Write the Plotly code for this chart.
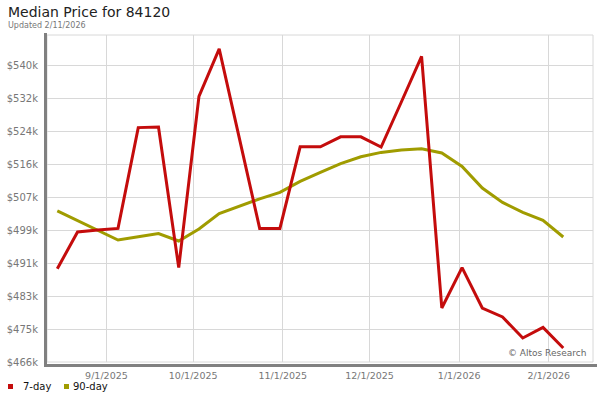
import plotly.graph_objects as go
import pandas as pd

# ---- data ----
dates = pd.date_range("2025-08-15", periods=26, freq="7D")
day7 = [489.6, 498.8, 499.3, 499.7, 524.9, 525.05, 489.9, 532.7, 544.6, 522.2,
        499.7, 499.7, 520.1, 520.1, 522.6, 522.6, 520.05, 531.3, 542.7, 479.8,
        489.9, 479.8, 477.55, 472.3, 474.95, 469.8]
day90 = [504.1, 501.7, 499.2, 496.8, 497.6, 498.4, 496.55, 499.55, 503.4, 505.2,
         507.1, 508.7, 511.45, 513.7, 515.9, 517.6, 518.7, 519.3, 519.6, 518.55,
         515.2, 509.8, 506.2, 503.7, 501.7, 497.55]
y_ticks = [466.3 + 8.23 * k for k in range(10)]
y_labels = ["$466k", "$475k", "$483k", "$491k", "$499k", "$507k", "$516k", "$524k", "$532k", "$540k"]
x_ticks = ["2025-09-01", "2025-10-01", "2025-11-01", "2025-12-01", "2026-01-01", "2026-02-01"]
x_labels = ["9/1/2025", "10/1/2025", "11/1/2025", "12/1/2025", "1/1/2026", "2/1/2026"]

RED = "#c40c0c"
OLIVE = "#a09c00"
FONT = "DejaVu Sans"

fig = go.Figure()
fig.add_trace(go.Scatter(x=dates, y=[v * 1000 for v in day90], mode="lines", name="90-day",
                         line=dict(color=OLIVE, width=3), showlegend=False))
fig.add_trace(go.Scatter(x=dates, y=[v * 1000 for v in day7], mode="lines", name="7-day",
                         line=dict(color=RED, width=3), showlegend=False))

W, H = 600, 400
L, R, T, B = 47, 7, 35, 38
pw, ph = W - L - R, H - T - B


def px(x):
    return (x - L) / pw


def py(y):
    return (H - B - y) / ph


shapes = [
    dict(type="rect", xref="paper", yref="paper", x0=0, x1=1, y0=0, y1=1,
         line=dict(color="#d8d8d8", width=1), layer="below"),
    dict(type="rect", xref="paper", yref="paper", x0=px(44), x1=px(47), y0=py(367), y1=py(33),
         fillcolor="#808080", line=dict(width=0)),
    dict(type="rect", xref="paper", yref="paper", x0=px(44), x1=px(597), y0=py(367), y1=py(364),
         fillcolor="#808080", line=dict(width=0)),
    dict(type="rect", xref="paper", yref="paper", x0=px(8), x1=px(13), y0=py(389), y1=py(384),
         fillcolor=RED, line=dict(width=0)),
    dict(type="rect", xref="paper", yref="paper", x0=px(64), x1=px(69), y0=py(389), y1=py(384),
         fillcolor=OLIVE, line=dict(width=0)),
]

annotations = [
    dict(text="Median Price for 84120", xref="paper", yref="paper", x=px(6), y=py(12),
         xanchor="left", yanchor="middle", showarrow=False, font=dict(family=FONT, size=14, color="#222")),
    dict(text="Updated 2/11/2026", xref="paper", yref="paper", x=px(6), y=py(25),
         xanchor="left", yanchor="middle", showarrow=False, font=dict(family=FONT, size=8, color="#777")),
    dict(text="© Altos Research", xref="paper", yref="paper", x=px(588), y=py(353),
         xanchor="right", yanchor="middle", showarrow=False, font=dict(family=FONT, size=9, color="#666")),
    dict(text="7-day", xref="paper", yref="paper", x=px(21), y=py(387),
         xanchor="left", yanchor="middle", showarrow=False, font=dict(family=FONT, size=10, color="#111")),
    dict(text="90-day", xref="paper", yref="paper", x=px(71), y=py(387),
         xanchor="left", yanchor="middle", showarrow=False, font=dict(family=FONT, size=10, color="#111")),
]

fig.update_layout(
    width=W, height=H,
    margin=dict(l=L, r=R, t=T, b=B, autoexpand=False),
    paper_bgcolor="white", plot_bgcolor="white",
    showlegend=False,
    shapes=shapes, annotations=annotations,
    font=dict(family=FONT),
    xaxis=dict(range=["2025-08-11 10:30", "2026-02-16 07:00"], tickvals=x_ticks, ticktext=x_labels,
               showgrid=True, gridcolor="#d8d8d8", gridwidth=1, zeroline=False, showline=False,
               automargin=False, ticks="", ticklabelstandoff=6,
               tickfont=dict(family=FONT, size=9.5, color="#777")),
    yaxis=dict(range=[466300, 548050], tickvals=[v * 1000 for v in y_ticks], ticktext=y_labels,
               showgrid=True, gridcolor="#d8d8d8", gridwidth=1, zeroline=False, showline=False,
               automargin=False, ticks="", ticklabelstandoff=8,
               tickfont=dict(family=FONT, size=10, color="#777")),
)

fig.write_html("out.html", config={"displayModeBar": False},
               post_script="document.body.style.margin='0';")
